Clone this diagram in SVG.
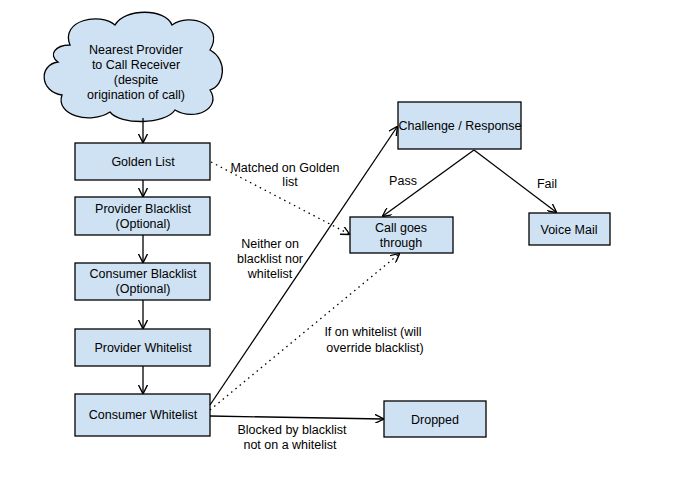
<svg xmlns="http://www.w3.org/2000/svg" width="695" height="494" viewBox="0 0 695 494">
<style>
.b{fill:#cfe2f3;stroke:#000;stroke-width:1.3}
text{font-family:"Liberation Sans",Arial,sans-serif;font-size:12.5px;fill:#000;text-anchor:middle}
.l{fill:none;stroke:#000;stroke-width:1.3}
.d{fill:none;stroke:#000;stroke-width:1.3;stroke-dasharray:1.5 4}
</style>
<defs><marker id="a" viewBox="0 0 10 10" refX="9" refY="5" markerWidth="7" markerHeight="7" orient="auto"><path d="M0,0 L10,5 L0,10" fill="none" stroke="#000" stroke-width="1.5"/></marker></defs>
<rect width="695" height="494" fill="#fff"/>
<g id="cloud"><path class="b" d="M70,45 C60,20 100,12 115,25 C125,8 165,8 172,25 C190,12 225,25 210,50 C228,60 225,85 210,90 C222,108 195,122 175,110 C165,125 120,125 110,112 C90,125 55,115 62,95 C40,92 38,65 58,62 C48,55 55,45 70,45 Z"/>
<text x="136" y="54">Nearest Provider</text><text x="136" y="69">to Call Receiver</text><text x="136" y="84">(despite</text><text x="136" y="99">origination of call)</text></g>
<g id="golden"><rect class="b" x="75" y="143" width="135" height="37"/><text x="143" y="166">Golden List</text></g>
<g id="pbl"><rect class="b" x="75" y="197" width="135" height="38"/><text x="143" y="213">Provider Blacklist</text><text x="143" y="228">(Optional)</text></g>
<g id="cbl"><rect class="b" x="75" y="263" width="135" height="37"/><text x="143" y="278">Consumer Blacklist</text><text x="143" y="293">(Optional)</text></g>
<g id="pwl"><rect class="b" x="75" y="329" width="135" height="37"/><text x="143" y="352">Provider Whitelist</text></g>
<g id="cwl"><rect class="b" x="75" y="394" width="135" height="42"/><text x="143" y="419">Consumer Whitelist</text></g>
<g id="cr"><rect class="b" x="398" y="102" width="123" height="47"/><text x="460" y="130">Challenge / Response</text></g>
<g id="cgt"><rect class="b" x="350" y="217" width="103" height="36"/><text x="401" y="232">Call goes</text><text x="401" y="247">through</text></g>
<g id="vm"><rect class="b" x="529" y="213" width="81" height="32"/><text x="569" y="234">Voice Mail</text></g>
<g id="drop"><rect class="b" x="384" y="401" width="102" height="36"/><text x="435" y="424">Dropped</text></g>
<g id="connectors">
<line class="l" x1="143" y1="118" x2="143" y2="142" marker-end="url(#a)"/>
<line class="l" x1="143" y1="180" x2="143" y2="196" marker-end="url(#a)"/>
<line class="l" x1="143" y1="235" x2="143" y2="262" marker-end="url(#a)"/>
<line class="l" x1="143" y1="300" x2="143" y2="328" marker-end="url(#a)"/>
<line class="l" x1="143" y1="366" x2="143" y2="393" marker-end="url(#a)"/>
<line class="d" x1="211" y1="162" x2="349" y2="234" marker-end="url(#a)"/>
<line class="l" x1="210" y1="405" x2="397" y2="127" marker-end="url(#a)"/>
<line class="d" x1="210" y1="410" x2="399" y2="254" marker-end="url(#a)"/>
<line class="l" x1="210" y1="416" x2="383" y2="419" marker-end="url(#a)"/>
<line class="l" x1="474" y1="150" x2="383" y2="216" marker-end="url(#a)"/>
<line class="l" x1="474" y1="150" x2="556" y2="212" marker-end="url(#a)"/>
</g>
<g id="labels">
<text x="285" y="172">Matched on Golden</text><text x="290" y="186">list</text>
<text x="270" y="248">Neither on</text><text x="270" y="263">blacklist nor</text><text x="270" y="278">whitelist</text>
<text x="373" y="336">If on whitelist (will</text><text x="375" y="352">override blacklist)</text>
<text x="292" y="434">Blocked by blacklist</text><text x="290" y="449">not on a whitelist</text>
<text x="403" y="185">Pass</text><text x="547" y="188">Fail</text>
</g>
</svg>
